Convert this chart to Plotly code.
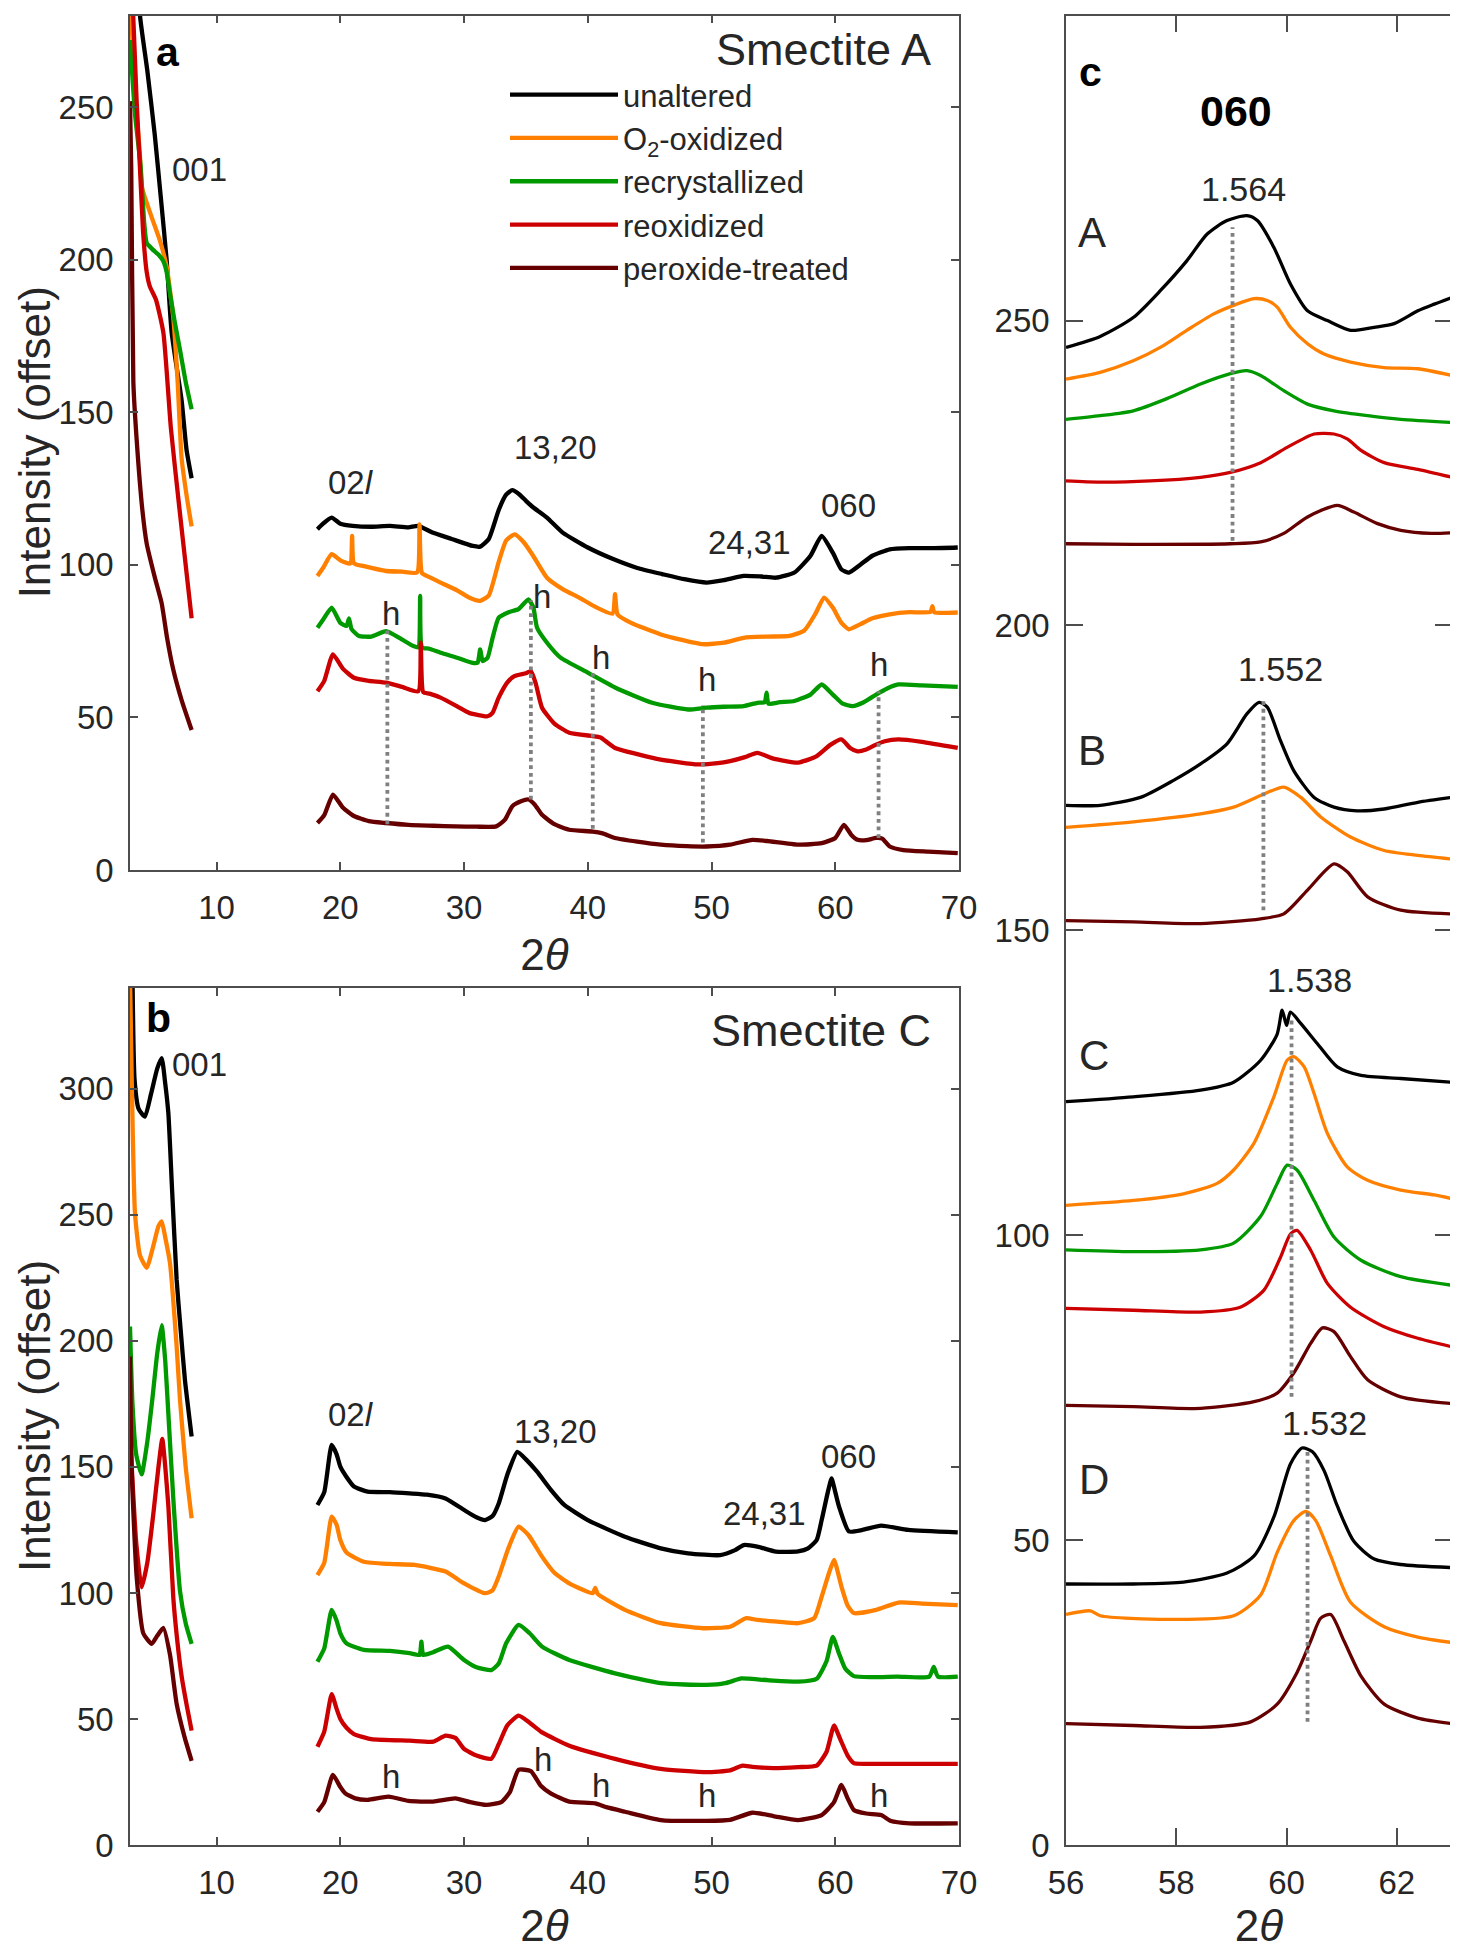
import plotly.graph_objects as go

# ---------------- series names / colours ----------------
series_names = ["unaltered", "O<sub>2</sub>-oxidized", "recrystallized", "reoxidized", "peroxide-treated"]
series_colors = ["#000000", "#FF8000", "#009900", "#CC0000", "#660000"]

# ---------------- panel a : Smectite A ----------------
a_unaltered_x = [3.5, 3.81, 4.4, 5.0, 5.5, 5.96, 6.37, 7.17, 7.57, 7.98, None,
                 18.15, 18.6, 19.3, 20.0, 21.0, 22.5, 24.0, 25.5, 26.3, 27.5, 29.0, 30.7, 31.3, 32.0, 32.8, 33.4, 33.9,
                 34.5, 35.0, 35.6, 36.7, 38.0, 40.0, 42.0, 44.0, 46.0, 47.8, 49.6, 51.0, 52.6, 54.0, 55.2, 56.7, 58.0,
                 58.9, 59.8, 60.5, 61.1, 62.0, 63.0, 64.4, 66.0, 68.0, 69.9]
a_unaltered_y = [310, 280, 262, 241, 220, 200, 176, 154, 137.7, 128.4, None,
                 111.7, 113.5, 115.5, 113.5, 112.8, 112.5, 112.8, 112.3, 112.8, 110.5, 108.5, 106.2, 106.0, 108.5, 118,
                 123, 124.5, 123, 121, 118.8, 115.5, 110.5, 105.7, 102, 99, 97, 95.3, 94.2, 95, 96.4, 96.2, 95.8, 97.5,
                 103, 109.5, 104, 98.5, 97.5, 100, 103, 105.1, 105.5, 105.5, 105.7]

a_oxidized_x = [3.0, 3.3, 3.5, 3.78, 3.95, 4.75, 5.4, 5.96, 6.5, 6.85, 7.17, 7.6, 7.98, None,
                18.15, 18.6, 19.3, 20.0, 20.8, 20.95, 21.1, 22.0, 23.7, 25.0, 26.2, 26.4, 26.6, 27.2, 28.1, 29.5, 30.4,
                31.3, 32.0, 32.8, 33.4, 34.1, 34.8, 35.5, 36.7, 38.0, 39.3, 40.5, 42.0, 42.2, 42.4, 43.5, 45.9, 47.5,
                49.3, 51.0, 52.6, 54.5, 56.3, 57.5, 58.4, 59.1, 59.8, 60.5, 61.1, 62.0, 63.0, 64.4, 66.0, 67.7, 67.85,
                68.0, 69.9]
a_oxidized_y = [290, 262, 249, 236, 224, 214, 206.5, 197.8, 181, 160, 135, 122, 112.6, None,
                96.4, 99, 103.5, 101.5, 100.5, 109.5, 100.5, 99.5, 98, 97.8, 97.5, 113.3, 97.3, 96, 94.2, 91.5, 89.3,
                88.2, 90, 101, 108, 110, 107.5, 103.5, 95.8, 92, 89.3, 86.5, 84, 90.4, 83.8, 81, 77.2, 75.5, 74, 74.5,
                76.1, 76.5, 76.7, 78.5, 84, 89.3, 86, 81, 78.9, 80.5, 82.5, 83.8, 84.5, 84.6, 86.5, 84.5, 84.4]

a_recryst_x = [3.0, 3.4, 3.86, 4.15, 4.35, 4.8, 5.35, 5.7, 5.96, 6.23, 6.6, 7.04, 7.5, 7.98, None,
               18.15, 18.6, 19.3, 20.0, 20.5, 20.7, 20.9, 21.5, 22.5, 23.7, 24.8, 25.9, 26.3, 26.45, 26.6, 27.2, 28.1,
               29.5, 30.7, 31.1, 31.3, 31.5, 31.9, 32.3, 32.8, 33.6, 34.4, 35.2, 35.6, 35.9, 36.8, 37.8, 40.0, 42.2,
               45.2, 48.1, 49.6, 51.0, 52.6, 53.7, 54.3, 54.45, 54.6, 55.5, 56.7, 58.0, 58.9, 59.8, 60.6, 61.4, 62.3,
               63.3, 64.2, 65.1, 67.0, 69.9]
a_recryst_y = [272, 248, 230.6, 212, 205.5, 203.5, 201.5, 199.5, 196, 189, 180, 170.5, 160, 151, None,
               79.4, 82, 86, 81, 80, 82.5, 79, 76.7, 76.5, 78.3, 76, 73.4, 73, 89.8, 73, 72.5, 71.2, 69.5, 67.9, 68,
               72.3, 68.5, 69.6, 76, 82.7, 84.5, 85.5, 88.7, 86, 79.4, 74, 69.6, 64.7, 59.8, 54.8, 52.6, 53.2, 53.5,
               53.7, 54.8, 55, 58.1, 54.5, 55.0, 55.4, 57.5, 60.8, 57.5, 54.5, 53.7, 55, 57.5, 59.5, 60.8, 60.5, 60]

a_reox_x = [3.0, 3.27, 3.54, 3.8, 4.06, 4.35, 4.6, 5.1, 5.7, 6.3, 6.98, 7.5, 7.98, None,
            18.15, 18.7, 19.4, 20.2, 21.1, 22.3, 23.7, 25.0, 26.3, 26.5, 26.7, 27.2, 28.1, 29.5, 30.4, 31.9, 32.3,
            32.8, 33.5, 34.1, 35.0, 35.4, 35.8, 36.3, 37.3, 38.5, 40.4, 41.0, 42.2, 44.0, 45.9, 48.9, 50.5, 51.5,
            52.7, 53.7, 55.0, 57.0, 58.5, 59.6, 60.5, 61.2, 61.8, 62.5, 63.3, 64.0, 65.1, 67.0, 69.9]
a_reox_y = [300, 279, 251.7, 230.6, 209, 196, 191.3, 186.9, 176, 145, 119, 100, 82.5, None,
            58.6, 62, 70.7, 66, 63, 62, 61.4, 60, 58.6, 74.5, 58.3, 57.8, 56.5, 53.5, 51.5, 50.4, 51.5, 56.5, 61.5,
            63.6, 64.5, 65.2, 61, 53.2, 48, 45, 43.9, 43.5, 40, 38, 36.2, 34.6, 35, 35.7, 37, 38.4, 36.5, 35.2, 37.3,
            41, 42.8, 40, 38.9, 39.5, 41.1, 42.2, 42.8, 42, 40]

a_perox_x = [3.0, 3.1, 3.27, 3.54, 4.0, 4.35, 5.0, 5.56, 6.0, 6.5, 7.17, 7.98, None,
             18.15, 18.7, 19.4, 20.2, 21.1, 22.3, 23.7, 25.5, 27.5, 29.3, 31.0, 32.6, 33.3, 33.9, 34.6, 35.2, 35.7,
             36.3, 37.3, 38.5, 40.4, 41.2, 42.2, 44.0, 45.9, 48.0, 49.6, 51.5, 53.3, 54.5, 57.0, 58.9, 60.0, 60.7,
             61.3, 61.8, 62.5, 63.3, 63.8, 64.4, 65.5, 67.5, 69.9]
a_perox_y = [252, 230, 160, 141, 118, 107, 96, 87.4, 76, 65.6, 55.7, 45.9, None,
             15.4, 18, 24.7, 20.5, 17.7, 16, 15.4, 14.8, 14.5, 14.3, 14.2, 14.3, 16.5, 20.9, 22.5, 23.1, 21.5, 18.1,
             15, 13.2, 12.6, 12, 10.5, 9.3, 8.3, 7.8, 7.7, 8.3, 9.9, 9.5, 8.3, 8.8, 10.5, 14.8, 11.5, 9.9, 9.8, 10.5,
             10.3, 7.7, 6.5, 6, 5.5]

a_h_x = [23.8, 35.4, 40.4, 49.3, 63.5]
a_h_bottom = [15.0, 23.1, 13.5, 9.0, 10.5]
a_h_top = [79.4, 88.4, 64.5, 54.0, 58.6]
a_h_label_x = [24.1, 36.3, 41.1, 49.6, 63.5]
a_h_label_y = [84.0, 89.5, 69.6, 62.5, 67.4]

a_peak_labels = ["001", "02<i>l</i>", "13,20", "24,31", "060"]
a_peak_x = [8.65, 20.9, 37.4, 53.1, 61.1]
a_peak_y = [229.5, 127.0, 138.5, 107.3, 119.4]

# ---------------- panel b : Smectite C ----------------
b_unaltered_x = [3.2, 3.37, 3.7, 4.21, 4.7, 5.2, 5.56, 5.85, 6.1, 6.4, 6.77, 7.1, 7.44, 7.98, None,
                 18.15, 18.7, 19.3, 19.7, 20.0, 20.5, 21.1, 22.2, 24.0, 25.6, 27.0, 28.5, 30.0, 31.0, 31.7, 32.3, 32.8,
                 33.5, 34.3, 35.0, 35.9, 37.0, 38.1, 40.0, 43.0, 45.9, 48.1, 50.7, 51.9, 52.6, 53.7, 55.2, 57.0, 57.8,
                 58.5, 58.9, 59.4, 59.7, 60.0, 60.3, 61.1, 62.2, 63.7, 65.9, 69.9]
b_unaltered_y = [345, 303.6, 292, 289, 298, 308, 312.2, 302, 290.3, 260, 224.2, 204, 184.5, 162.1, None,
                 134.9, 140, 158.7, 155, 150.1, 146, 142.2, 140.2, 140, 139.5, 139, 137.5, 132.9, 130, 128.9, 130.5,
                 135.5, 147, 156, 153, 148.1, 141, 134.9, 128.9, 122.3, 117.7, 115.7, 115, 117, 119, 118.4, 116.4,
                 116.5, 117.7, 121, 128.9, 140, 145.4, 140, 134.3, 124.4, 125, 126.7, 125, 124]

b_oxidized_x = [3.0, 3.14, 3.40, 3.8, 4.35, 4.9, 5.3, 5.56, 5.85, 6.23, 6.77, 7.04, 7.5, 7.98, None,
                18.15, 18.7, 19.3, 19.7, 20.0, 20.5, 21.9, 24.0, 26.0, 28.5, 30.0, 31.7, 32.3, 32.8, 33.6, 34.4, 35.2,
                36.3, 37.3, 38.5, 40.4, 40.6, 40.8, 43.0, 45.9, 49.3, 51.5, 52.8, 53.7, 55.5, 57.0, 58.3, 58.9, 59.5,
                59.9, 60.5, 61.0, 61.5, 63.3, 65.1, 67.0, 69.9]
b_oxidized_y = [345, 303.6, 250.8, 234, 229, 238, 245.5, 247.4, 241, 230.9, 197.7, 176.6, 150, 129.6, None,
                107.1, 112, 130.3, 127, 121, 116, 112.4, 111.5, 111.1, 108.5, 103.8, 99.9, 101, 106.5, 118, 126.3, 123,
                114.4, 108, 103.8, 99.9, 102, 99.6, 93.3, 88, 86, 86.6, 90, 89.3, 88.5, 88, 90, 98.5, 108, 113.1,
                102.5, 95, 92, 93.3, 96.2, 95.8, 95.2]

b_recryst_x = [3.0, 3.2, 3.5, 3.94, 4.4, 4.8, 5.2, 5.56, 5.85, 6.1, 6.5, 7.04, 7.5, 7.98, None,
               18.15, 18.7, 19.3, 19.7, 20.0, 20.5, 21.9, 24.0, 25.6, 26.4, 26.55, 26.7, 27.5, 28.7, 30.0, 31.0, 32.2,
               32.8, 33.4, 34.4, 35.3, 36.3, 38.5, 42.2, 45.9, 49.6, 51.1, 52.4, 53.0, 55.0, 57.0, 58.5, 59.3, 59.8,
               60.3, 60.8, 61.5, 63.0, 65.0, 67.6, 67.96, 68.3, 69.9]
b_recryst_y = [205.7, 175, 155, 147, 160, 176.6, 195, 206.2, 192, 171, 137.3, 100.8, 88, 79.8, None,
               72.7, 78, 93.3, 89, 84, 80, 77.4, 77, 76.1, 75.4, 80.7, 75.4, 76.5, 78.7, 73.4, 70.5, 69.4, 72, 80,
               87.3, 84, 78.7, 73.4, 68.1, 64.2, 63.5, 64.2, 66.1, 66, 65.2, 64.8, 66, 73, 82.6, 76, 70, 67, 66.6,
               66.8, 66.8, 70.7, 66.8, 66.8]

b_reox_x = [3.0, 3.14, 3.5, 3.94, 4.4, 4.9, 5.3, 5.61, 5.85, 6.1, 6.5, 6.8, 7.17, 7.6, 7.98, None,
            18.15, 18.7, 19.3, 19.7, 20.0, 20.5, 21.1, 22.5, 25.6, 27.5, 28.5, 29.3, 30.0, 31.0, 32.2, 32.8, 33.5,
            34.4, 35.3, 36.3, 38.5, 42.2, 45.9, 49.6, 51.5, 52.5, 53.3, 55.0, 57.0, 58.5, 59.3, 59.9, 60.4, 61.0,
            61.5, 62.5, 65.0, 69.9]
b_reox_y = [163.4, 150, 120, 102.2, 112, 132, 150, 161.1, 150, 134.5, 98, 82, 67, 55, 45.4, None,
            39, 45, 59.8, 54, 50, 46.5, 44, 42, 41.4, 41, 43.4, 42.5, 38.1, 35.5, 34.2, 40, 47.5, 51.3, 48.5, 44.7,
            39.4, 34.2, 30.2, 28.9, 29.6, 31.5, 31, 30.5, 30.9, 31.5, 37, 47.4, 42, 35.5, 32.5, 32.2, 32.2, 32.2]

b_perox_x = [3.0, 3.14, 3.54, 4.08, 4.75, 5.2, 5.7, 6.23, 6.77, 7.4, 7.98, None,
             18.15, 18.7, 19.4, 20.0, 20.4, 21.2, 22.2, 23.9, 25.5, 27.5, 29.3, 30.5, 31.8, 33.0, 33.7, 34.4, 35.4,
             36.2, 37.0, 38.5, 40.6, 41.5, 43.0, 45.9, 49.6, 51.5, 53.3, 55.0, 57.0, 58.9, 59.9, 60.5, 61.0, 61.5,
             62.5, 63.7, 64.5, 66.0, 69.9]
b_perox_y = [193.8, 148.5, 106.3, 83.9, 79.8, 83, 86.1, 75.5, 56, 43, 33.4, None,
             13.2, 17, 27.8, 23, 20.5, 18.5, 17.9, 19.2, 17.5, 17.2, 18.5, 17, 15.9, 17, 21, 29.8, 29.3, 23.5, 20.5,
             17.2, 16.5, 15, 13.2, 9.9, 9.6, 10, 12.8, 11.5, 9.9, 11.9, 17, 23.8, 18.5, 13.9, 12.5, 11.9, 9.5, 8.6,
             8.6]

b_h_label_x = [24.1, 36.4, 41.1, 49.6, 63.5]
b_h_label_y = [27.0, 34.0, 23.7, 19.8, 19.8]

b_peak_labels = ["001", "02<i>l</i>", "13,20", "24,31", "060"]
b_peak_x = [8.65, 20.9, 37.4, 54.3, 61.1]
b_peak_y = [309.5, 170.6, 164.0, 131.6, 154.0]

# ---------------- panel c : 060 region ----------------
cA_unaltered_x = [56.0, 56.62, 57.22, 57.71, 58.19, 58.56, 58.92, 59.28, 59.47, 59.77, 60.07, 60.38, 60.74, 61.16,
                  61.59, 61.95, 62.38, 62.68, 63.0]
cA_unaltered_y = [245.6, 247.4, 250.5, 254.9, 259.8, 264.2, 266.4, 267.2, 266.4, 262, 256, 251.6, 250, 248.4, 248.9,
                  249.5, 251.6, 252.7, 253.8]
cA_oxidized_x = [56.0, 56.62, 57.22, 57.71, 58.19, 58.68, 59.04, 59.41, 59.65, 59.83, 60.07, 60.38, 60.68, 61.16,
                 61.77, 62.38, 63.0]
cA_oxidized_y = [240.4, 241.5, 243.4, 245.6, 248.4, 251.1, 252.5, 253.6, 253.3, 252.2, 248.9, 246.2, 244.5, 243.2,
                 242.3, 242.1, 241]
cA_recryst_x = [56.0, 56.62, 57.22, 57.83, 58.44, 58.98, 59.28, 59.53, 59.95, 60.38, 60.86, 61.47, 62.07, 63.0]
cA_recryst_y = [233.8, 234.4, 235.2, 237.2, 239.6, 241.3, 241.8, 241, 238.5, 236.3, 235.2, 234.4, 233.8, 233.3]
cA_reox_x = [56.0, 56.62, 57.53, 58.44, 58.98, 59.53, 60.01, 60.5, 60.86, 61.1, 61.35, 61.77, 62.38, 63.0]
cA_reox_y = [223.7, 223.5, 223.7, 224.3, 225.1, 226.7, 229.2, 231.4, 231.4, 230.6, 228.7, 226.7, 225.6, 224.3]
cA_perox_x = [56.0, 57.22, 58.98, 59.53, 59.95, 60.38, 60.92, 61.22, 61.65, 62.07, 62.62, 63.0]
cA_perox_y = [213.4, 213.3, 213.4, 213.7, 215.1, 217.8, 219.7, 218.6, 216.7, 215.6, 215.1, 215.2]

cB_unaltered_x = [56.0, 56.62, 57.35, 57.95, 58.44, 58.92, 59.28, 59.5, 59.65, 59.89, 60.13, 60.5, 60.86, 61.28,
                  61.77, 62.38, 63.0]
cB_unaltered_y = [170.5, 170.5, 171.8, 174.6, 177.3, 180.6, 185.5, 187.4, 186.6, 181.1, 176.2, 171.8, 170.2, 169.6,
                  169.9, 171, 171.8]
cB_oxidized_x = [56.0, 57.22, 58.44, 59.04, 59.53, 59.95, 60.26, 60.62, 61.16, 61.77, 62.38, 63.0]
cB_oxidized_y = [166.9, 167.8, 169.1, 170.2, 172.1, 173.5, 171.8, 168.6, 165.3, 163.1, 162.3, 161.7]
cB_perox_x = [56.0, 57.22, 58.44, 59.53, 59.95, 60.38, 60.86, 61.1, 61.47, 62.07, 63.0]
cB_perox_y = [151.6, 151.4, 151.1, 151.9, 152.7, 156.6, 160.9, 159.6, 155.5, 153.3, 152.7]

cC_unaltered_x = [56.0, 57.22, 58.44, 59.04, 59.53, 59.83, 59.92, 60.0, 60.07, 60.26, 60.56, 60.92, 61.35, 62.07,
                  63.0]
cC_unaltered_y = [121.9, 122.7, 123.8, 125.1, 128.7, 133, 136.9, 134.4, 136.6, 134.7, 131.4, 127.6, 126.2, 125.7,
                  125.1]
cC_oxidized_x = [56.0, 57.22, 58.13, 58.74, 59.04, 59.41, 59.77, 60.01, 60.13, 60.32, 60.5, 60.74, 61.1, 61.47,
                 62.07, 62.68, 63.0]
cC_oxidized_y = [104.9, 105.7, 106.8, 108.5, 110.7, 115.1, 122.7, 128.7, 129.3, 127.6, 123.2, 116.7, 111.2, 109,
                 107.4, 106.6, 106]
cC_recryst_x = [56.0, 57.22, 58.44, 59.04, 59.53, 59.83, 60.01, 60.19, 60.5, 60.86, 61.35, 62.07, 63.0]
cC_recryst_y = [97.6, 97.3, 97.6, 98.7, 103.1, 108.5, 111.5, 110.7, 105.7, 99.7, 95.9, 93.2, 91.8]
cC_reox_x = [56.0, 57.22, 58.44, 59.16, 59.59, 59.89, 60.07, 60.19, 60.44, 60.74, 61.16, 61.77, 62.38, 63.0]
cC_reox_y = [88, 87.7, 87.4, 88.2, 91, 96.4, 100.2, 100.8, 97.5, 92.1, 88.2, 85, 83.1, 81.7]
cC_perox_x = [56.0, 57.22, 58.44, 59.41, 59.83, 60.13, 60.44, 60.65, 60.86, 61.16, 61.47, 62.07, 63.0]
cC_perox_y = [72.1, 71.9, 71.6, 72.7, 74.1, 77.4, 82.3, 84.8, 84.2, 80.1, 76.3, 73.5, 72.4]

cD_unaltered_x = [56.0, 57.22, 58.13, 58.92, 59.41, 59.77, 60.07, 60.28, 60.47, 60.68, 60.92, 61.22, 61.59, 62.07,
                  63.0]
cD_unaltered_y = [42.8, 42.8, 43.1, 44.6, 47.4, 53.8, 62.5, 65.1, 64.5, 61.4, 55.6, 49.8, 46.9, 46, 45.5]
cD_oxidized_x = [56.0, 56.44, 56.62, 57.83, 59.04, 59.53, 59.83, 60.13, 60.35, 60.53, 60.8, 61.16, 61.77, 62.38, 63.0]
cD_oxidized_y = [37.8, 38.4, 37.6, 37, 37.6, 41, 48, 53.2, 54.7, 53.2, 47.4, 39.8, 35.8, 34.1, 33.2]
cD_perox_x = [56.0, 57.22, 58.44, 59.35, 59.83, 60.19, 60.44, 60.62, 60.8, 61.04, 61.35, 61.77, 62.38, 63.0]
cD_perox_y = [19.9, 19.6, 19.3, 20.2, 23.1, 28.3, 33.5, 37.2, 37.8, 33.5, 27.7, 23.1, 20.8, 19.9]

c_line_x = [59.02, 59.58, 60.09, 60.38]
c_line_bottom = [213.9, 153.3, 73.5, 20.2]
c_line_top = [265.3, 187.7, 135.2, 64.8]
c_dspacing_labels = ["1.564", "1.552", "1.538", "1.532"]
c_dspacing_x = [59.22, 59.89, 60.41, 60.68]
c_dspacing_y = [271.6, 192.9, 141.8, 69.2]
c_sample_labels = ["A", "B", "C", "D"]
c_sample_x = [56.47, 56.47, 56.5, 56.5]
c_sample_y = [264.5, 179.5, 129.5, 59.9]

# ---------------- figure ----------------
FONT = "Liberation Sans, Arial, Helvetica, sans-serif"
TXT = "#262626"
AXC = "#4d4d4d"
HGRAY = "#808080"

fig = go.Figure()

panel_a = [(a_unaltered_x, a_unaltered_y), (a_oxidized_x, a_oxidized_y), (a_recryst_x, a_recryst_y),
           (a_reox_x, a_reox_y), (a_perox_x, a_perox_y)]
panel_b = [(b_unaltered_x, b_unaltered_y), (b_oxidized_x, b_oxidized_y), (b_recryst_x, b_recryst_y),
           (b_reox_x, b_reox_y), (b_perox_x, b_perox_y)]

for i, (xs, ys) in enumerate(panel_a):
    assert len(xs) == len(ys), ("a", i)
    fig.add_trace(go.Scatter(x=xs, y=ys, mode="lines", name=series_names[i], xaxis="x", yaxis="y",
                             line=dict(color=series_colors[i], width=4.3, shape="spline", smoothing=0.5),
                             showlegend=True, legendgroup=f"g{i}", hoverinfo="skip"))
for i, (xs, ys) in enumerate(panel_b):
    assert len(xs) == len(ys), ("b", i)
    fig.add_trace(go.Scatter(x=xs, y=ys, mode="lines", name=series_names[i], xaxis="x2", yaxis="y2",
                             line=dict(color=series_colors[i], width=4.3, shape="spline", smoothing=0.5),
                             showlegend=False, legendgroup=f"g{i}", hoverinfo="skip"))

panel_c = [
    (cA_unaltered_x, cA_unaltered_y, 0), (cA_oxidized_x, cA_oxidized_y, 1), (cA_recryst_x, cA_recryst_y, 2),
    (cA_reox_x, cA_reox_y, 3), (cA_perox_x, cA_perox_y, 4),
    (cB_unaltered_x, cB_unaltered_y, 0), (cB_oxidized_x, cB_oxidized_y, 1), (cB_perox_x, cB_perox_y, 4),
    (cC_unaltered_x, cC_unaltered_y, 0), (cC_oxidized_x, cC_oxidized_y, 1), (cC_recryst_x, cC_recryst_y, 2),
    (cC_reox_x, cC_reox_y, 3), (cC_perox_x, cC_perox_y, 4),
    (cD_unaltered_x, cD_unaltered_y, 0), (cD_oxidized_x, cD_oxidized_y, 1), (cD_perox_x, cD_perox_y, 4),
]
for k, (xs, ys, ci) in enumerate(panel_c):
    assert len(xs) == len(ys), ("c", k)
    fig.add_trace(go.Scatter(x=xs, y=ys, mode="lines", name=series_names[ci], xaxis="x3", yaxis="y3",
                             line=dict(color=series_colors[ci], width=3.3, shape="spline", smoothing=0.7),
                             showlegend=False, legendgroup=f"g{ci}", hoverinfo="skip"))

# dotted guide lines
for xv, y0, y1 in zip(a_h_x, a_h_bottom, a_h_top):
    fig.add_trace(go.Scatter(x=[xv, xv], y=[y0, y1], mode="lines", xaxis="x", yaxis="y",
                             line=dict(color=HGRAY, width=3.8, dash="dot"), showlegend=False, hoverinfo="skip"))
for xv, y0, y1 in zip(c_line_x, c_line_bottom, c_line_top):
    fig.add_trace(go.Scatter(x=[xv, xv], y=[y0, y1], mode="lines", xaxis="x3", yaxis="y3",
                             line=dict(color=HGRAY, width=3.8, dash="dot"), showlegend=False, hoverinfo="skip"))

# ---------------- geometry (page body has an 8 px default margin) ----------------
OFF = 8
W, H = 1458 - OFF, 1950 - OFF


def px_x(p):
    return (p - OFF) / W


def px_y(p):
    return 1 - (p - OFF) / H


dom_x_ab = [px_x(130), px_x(959)]
dom_x_c = [px_x(1066), px_x(1452)]
dom_y_a = [px_y(870), px_y(15.7)]
dom_y_b = [px_y(1845), px_y(988)]
dom_y_c = [px_y(1845), px_y(15.7)]

# ---------------- annotations ----------------
ann = []


def label(text, x, y, xref, yref, size=33, xanchor="center", color=TXT, angle=0):
    ann.append(dict(text=text, x=x, y=y, xref=xref, yref=yref, showarrow=False, xanchor=xanchor,
                    yanchor="middle", textangle=angle, font=dict(family=FONT, size=size, color=color)))


for t, x, y in zip(a_peak_labels, a_peak_x, a_peak_y):
    label(t, x, y, "x", "y")
for x, y in zip(a_h_label_x, a_h_label_y):
    label("h", x, y, "x", "y")
label("<b>a</b>", 6.1, 268, "x", "y", size=41, color="#000000")
label("Smectite A", 67.9, 269, "x", "y", size=45, xanchor="right")

for t, x, y in zip(b_peak_labels, b_peak_x, b_peak_y):
    label(t, x, y, "x2", "y2")
for x, y in zip(b_h_label_x, b_h_label_y):
    label("h", x, y, "x2", "y2")
label("<b>b</b>", 5.3, 328, "x2", "y2", size=41, color="#000000")
label("Smectite C", 67.9, 323, "x2", "y2", size=45, xanchor="right")

label("<b>c</b>", 56.45, 290.7, "x3", "y3", size=41, color="#000000")
label("<b>060</b>", 59.08, 284.4, "x3", "y3", size=43, color="#000000")
for t, x, y in zip(c_dspacing_labels, c_dspacing_x, c_dspacing_y):
    label(t, x, y, "x3", "y3", size=34)
for t, x, y in zip(c_sample_labels, c_sample_x, c_sample_y):
    label(t, x, y, "x3", "y3", size=42)

# y-axis titles (left edge of their box sits at the figure's left edge)
label("Intensity (offset)", 0.0, sum(dom_y_a) / 2, "paper", "paper", size=44, xanchor="left", angle=-90)
label("Intensity (offset)", 0.0, sum(dom_y_b) / 2, "paper", "paper", size=44, xanchor="left", angle=-90)

# ---------------- axes ----------------
tickfont = dict(family=FONT, size=33, color=TXT)
xtitle = dict(text="2<i>θ</i>", font=dict(family=FONT, size=44, color=TXT), standoff=14)


def axis(domain, rng, tickvals, anchor, ticklen, title=None, standoff_lab=6):
    d = dict(domain=domain, range=rng, tickvals=tickvals, anchor=anchor, ticks="inside", ticklen=ticklen,
             tickwidth=1.5, tickcolor=AXC, showline=True, linecolor=AXC, linewidth=1.5, mirror="ticks",
             showgrid=False, zeroline=False, tickfont=tickfont, automargin=False,
             ticklabelstandoff=standoff_lab)
    if title is not None:
        d["title"] = title
    return d


fig.update_layout(
    width=W, height=H, margin=dict(l=0, r=0, t=0, b=0),
    paper_bgcolor="white", plot_bgcolor="white", template="none",
    xaxis=axis(dom_x_ab, [3, 70], [10, 20, 30, 40, 50, 60, 70], "y", 8, xtitle, 8),
    yaxis=axis(dom_y_a, [0, 280], [0, 50, 100, 150, 200, 250], "x", 8, None, 8),
    xaxis2=axis(dom_x_ab, [3, 70], [10, 20, 30, 40, 50, 60, 70], "y2", 8, xtitle, 8),
    yaxis2=axis(dom_y_b, [0, 340], [0, 50, 100, 150, 200, 250, 300], "x2", 8, None, 8),
    xaxis3=axis(dom_x_c, [56, 63], [56, 58, 60, 62], "y3", 17, xtitle, 8),
    yaxis3=axis(dom_y_c, [0, 300], [0, 50, 100, 150, 200, 250, 300], "x3", 17, None, 8),
    legend=dict(x=px_x(505), y=px_y(68), xanchor="left", yanchor="top",
                font=dict(family=FONT, size=31, color=TXT), itemwidth=108,
                bgcolor="rgba(0,0,0,0)", borderwidth=0, traceorder="normal", tracegroupgap=0),
    annotations=ann,
    showlegend=True,
)

fig.write_html("out.html")
